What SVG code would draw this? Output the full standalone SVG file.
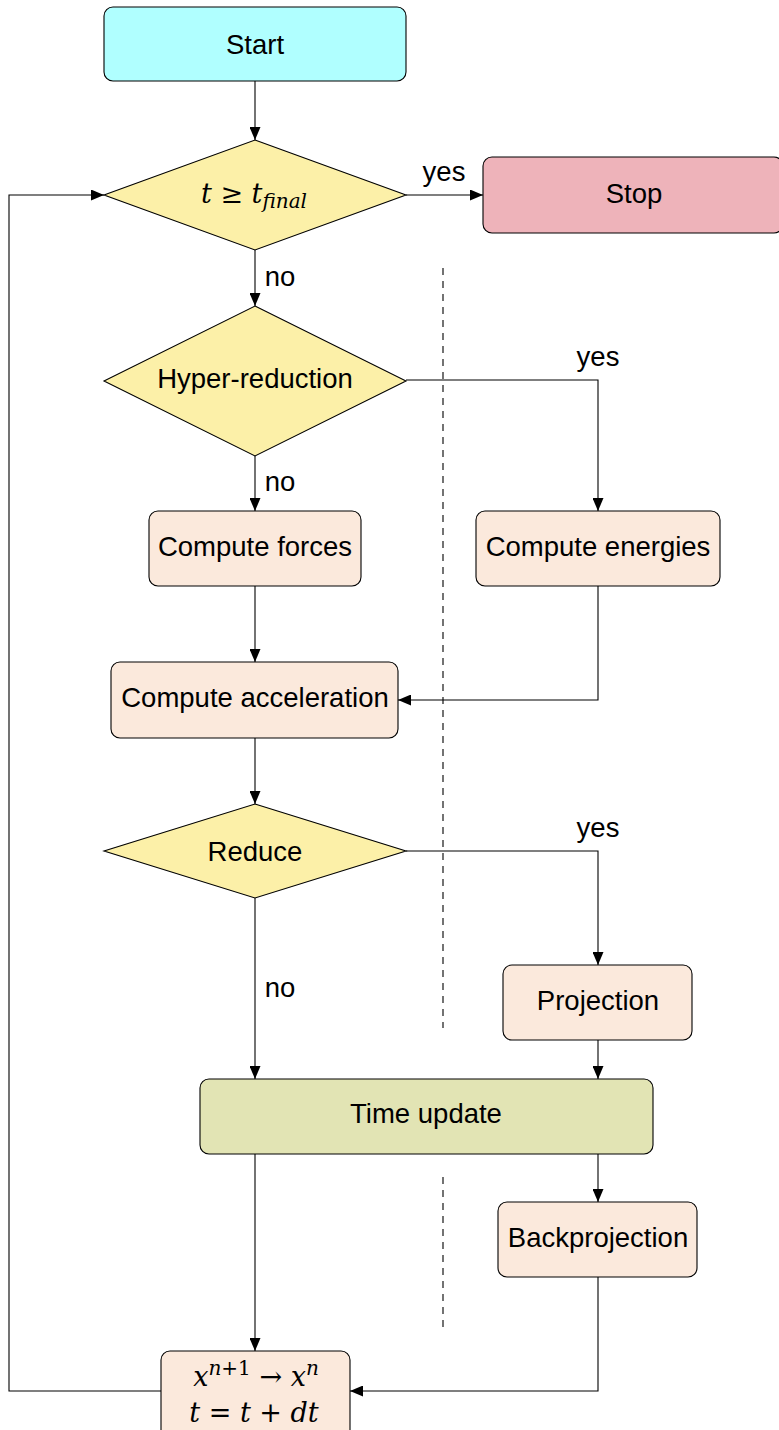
<svg xmlns="http://www.w3.org/2000/svg" width="779" height="1430" viewBox="0 0 779 1430">
<style>
.b{stroke:#000;stroke-width:1.1}
.t{font-family:"Liberation Sans",Arial,sans-serif;font-size:27.5px;fill:#000;text-anchor:middle;dominant-baseline:central}
.m{font-family:"DejaVu Serif","Liberation Serif",serif;font-style:italic;font-size:27px;fill:#000;text-anchor:middle}
.u{font-style:normal}
.proc{fill:#fbe9dc}
.dec{fill:#fcf0a8}
.c{fill:none;stroke:#000;stroke-width:1.1}
.d{fill:none;stroke:#000;stroke-width:1.1;stroke-dasharray:7,6}
</style>
<defs>
<marker id="ah" viewBox="0 0 13 11" refX="13" refY="5.5" markerWidth="13" markerHeight="11" markerUnits="userSpaceOnUse" orient="auto">
<path d="M0,0 L13,5.5 L0,11 Z" fill="#000"/>
</marker>
</defs>
<rect width="779" height="1430" fill="#fff"/>
<g id="connectors">
<line class="c" x1="255" y1="81" x2="255" y2="140" marker-end="url(#ah)"/>
<line class="c" x1="406" y1="195" x2="483" y2="195" marker-end="url(#ah)"/>
<line class="c" x1="255" y1="250" x2="255" y2="306" marker-end="url(#ah)"/>
<polyline class="c" points="406,380 598,380 598,511" marker-end="url(#ah)"/>
<line class="c" x1="255" y1="456" x2="255" y2="511" marker-end="url(#ah)"/>
<line class="c" x1="255" y1="586" x2="255" y2="662" marker-end="url(#ah)"/>
<polyline class="c" points="598,586 598,700 398,700" marker-end="url(#ah)"/>
<line class="c" x1="255" y1="738" x2="255" y2="804" marker-end="url(#ah)"/>
<polyline class="c" points="406,851 598,851 598,965" marker-end="url(#ah)"/>
<line class="c" x1="255" y1="898" x2="255" y2="1079" marker-end="url(#ah)"/>
<line class="c" x1="598" y1="1040" x2="598" y2="1079" marker-end="url(#ah)"/>
<line class="c" x1="598" y1="1154" x2="598" y2="1202" marker-end="url(#ah)"/>
<line class="c" x1="255" y1="1154" x2="255" y2="1351" marker-end="url(#ah)"/>
<polyline class="c" points="598,1277 598,1391 350,1391" marker-end="url(#ah)"/>
<polyline class="c" points="161,1391 9,1391 9,195 104,195" marker-end="url(#ah)"/>
<line class="d" x1="443" y1="268" x2="443" y2="1028"/>
<line class="d" x1="443" y1="1177" x2="443" y2="1330"/>
<text class="t" x="444" y="171">yes</text>
<text class="t" x="280" y="276">no</text>
<text class="t" x="598" y="356">yes</text>
<text class="t" x="280" y="481">no</text>
<text class="t" x="598" y="827">yes</text>
<text class="t" x="280" y="987">no</text>
</g>
<g id="start">
<rect class="b" x="104" y="7" width="302" height="74" rx="9" fill="#b0ffff"/>
<text class="t" x="255" y="44">Start</text>
</g>
<g id="cond-tfinal">
<polygon class="b dec" points="255,140 406,195 255,250 104,195"/>
<text class="m" x="254" y="203">t <tspan class="u">≥</tspan> t<tspan font-size="20" dy="5">final</tspan></text>
</g>
<g id="stop">
<rect class="b" x="483" y="157" width="300" height="76" rx="9" fill="#eeb3ba"/>
<text class="t" x="634" y="193">Stop</text>
</g>
<g id="hyper">
<polygon class="b dec" points="255,306 406,381 255,456 104,381"/>
<text class="t" x="255" y="378">Hyper-reduction</text>
</g>
<g id="forces">
<rect class="b proc" x="149" y="511" width="212" height="75" rx="9"/>
<text class="t" x="255" y="546">Compute forces</text>
</g>
<g id="energies">
<rect class="b proc" x="476" y="511" width="244" height="75" rx="9"/>
<text class="t" x="598" y="546">Compute energies</text>
</g>
<g id="accel">
<rect class="b proc" x="111" y="662" width="287" height="76" rx="9"/>
<text class="t" x="255" y="697">Compute acceleration</text>
</g>
<g id="reduce">
<polygon class="b dec" points="255,804 406,851 255,898 104,851"/>
<text class="t" x="255" y="851">Reduce</text>
</g>
<g id="projection">
<rect class="b proc" x="503" y="965" width="189" height="75" rx="9"/>
<text class="t" x="598" y="1000">Projection</text>
</g>
<g id="timeupdate">
<rect class="b" x="200" y="1079" width="453" height="75" rx="9" fill="#e2e4b4"/>
<text class="t" x="426" y="1113">Time update</text>
</g>
<g id="backprojection">
<rect class="b proc" x="498" y="1202" width="199" height="75" rx="9"/>
<text class="t" x="598" y="1237">Backprojection</text>
</g>
<g id="update">
<rect class="b proc" x="161" y="1351" width="189" height="90" rx="9"/>
<text class="m" x="256" y="1386" font-size="28">x<tspan font-size="20" dy="-11">n<tspan class="u">+1</tspan></tspan><tspan class="u" dy="11"> → </tspan>x<tspan font-size="20" dy="-11">n</tspan></text>
<text class="m" x="254" y="1422">t <tspan class="u">=</tspan> t <tspan class="u">+</tspan> dt</text>
</g>
</svg>
